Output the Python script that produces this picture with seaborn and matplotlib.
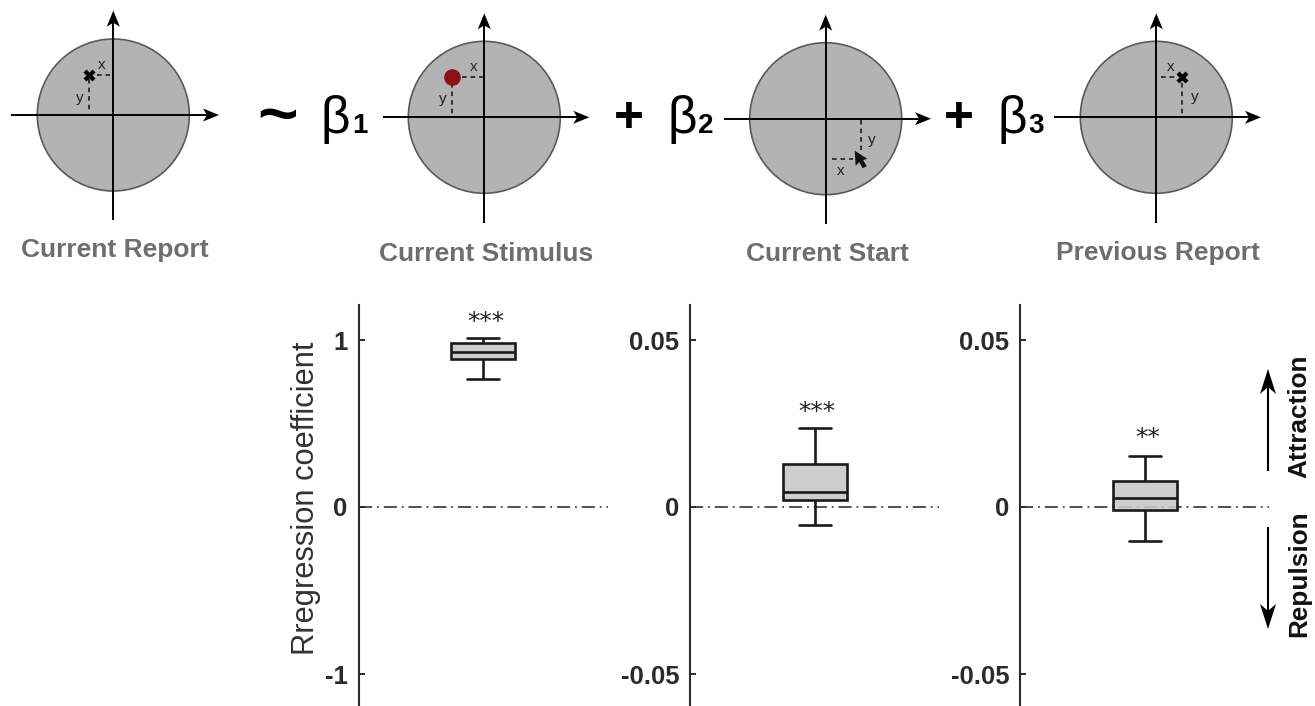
import matplotlib
matplotlib.use("Agg")
import matplotlib.pyplot as plt
from matplotlib.patches import Circle, Polygon
import numpy as np
import seaborn as sns

# five number summaries: min, q1, median, q3, max
stimulus_box = [0.765, 0.886, 0.926, 0.984, 1.01]
start_box = [-0.0055, 0.0021, 0.0044, 0.0129, 0.0237]
previous_box = [-0.0102, -0.0009, 0.0026, 0.0078, 0.0153]

panel_boxes = [stimulus_box, start_box, previous_box]
panel_ticks = [[-1, 0, 1], [-0.05, 0, 0.05], [-0.05, 0, 0.05]]
panel_ticklabels = [["-1", "0", "1"], ["-0.05", "0", "0.05"], ["-0.05", "0", "0.05"]]
panel_stars = ["***", "***", "**"]
star_heights = [1.11, 0.0285, 0.0208]
panel_scale = [1.0, 0.05, 0.05]

W, H = 1315, 706
DARK = "#1a1a1a"
TICK = "#2b2b2b"

sns.set_theme(style="white")
plt.rcParams["font.family"] = ["Liberation Sans", "DejaVu Sans"]

fig = plt.figure(figsize=(W / 100, H / 100), dpi=100)
fig.patch.set_facecolor("white")

# whole figure axes in pixel units for the schematic part
bg = fig.add_axes([0, 0, 1, 1])
bg.set_xlim(0, W)
bg.set_ylim(H, 0)
bg.axis("off")


def arrow(ax, x0, y0, x1, y1, lw=1.4, head=16, half=6.5, notch=4):
    """Line with a filled swept back head"""
    d = np.array([x1 - x0, y1 - y0], dtype=float)
    d /= np.hypot(*d)
    n = np.array([-d[1], d[0]])
    tip = np.array([x1, y1], dtype=float)
    base = tip - d * head
    mid = tip - d * (head - notch)
    ax.plot([x0, mid[0]], [y0, mid[1]], color="black", lw=lw, solid_capstyle="butt", zorder=3)
    ax.add_patch(Polygon([tip, base + n * half, mid, base - n * half], closed=True,
                         facecolor="black", edgecolor="none", zorder=4))


def dashed(ax, x0, y0, x1, y1):
    ax.plot([x0, x1], [y0, y1], color="#111111", lw=1.1, linestyle=(0, (3, 2.6)), zorder=3)


# centre x, centre y, left end, right end, top end, bottom end
discs = [
    (113.3, 115.0, 11, 219, 10.7, 220),
    (484.3, 117.3, 382.7, 589.3, 13.3, 222.7),
    (825.7, 118.7, 724, 931, 14.7, 224.3),
    (1156.3, 117.3, 1054.3, 1261, 13.3, 222.7),
]
for cx, cy, left, right, top, bottom in discs:
    bg.add_patch(Circle((cx, cy), 76, facecolor="#b3b3b3", edgecolor="#5a5a5a", lw=1.2, zorder=1))
    arrow(bg, left, cy, right, cy)
    arrow(bg, cx, bottom, cx, top)

# guides from the marker to each axis
dashed(bg, 96.7, 74.7, 110, 74.7)
dashed(bg, 89, 79, 89, 110)
dashed(bg, 461.7, 77, 483, 77)
dashed(bg, 451.7, 83, 451.7, 114)
dashed(bg, 831.7, 158.7, 852.7, 158.7)
dashed(bg, 860.7, 120, 860.7, 150)
dashed(bg, 1161, 77, 1178, 77)
dashed(bg, 1182.3, 83, 1182.3, 115.7)

bg.plot([89, 1182.3], [74.7, 77], linestyle="none", marker="X", ms=9, color="black",
        markeredgecolor="none", zorder=5)
bg.plot([451.7], [77], marker="o", ms=12, color="#8a1216", markeredgecolor="none", zorder=5)

# mouse pointer
tip_x, tip_y = 854.7, 150.7
pointer = [(0, 0), (1, 15), (4.5, 11.5), (8, 17.5), (12, 15.5), (8.5, 9.5), (12.5, 8)]
bg.add_patch(Polygon([(tip_x + a, tip_y + b) for a, b in pointer], closed=True,
                     facecolor="#111111", edgecolor="none", zorder=5))

small_labels = [
    ("x", 102, 65), ("y", 80, 97.7),
    ("x", 473.3, 67), ("y", 442.7, 99.3),
    ("x", 841, 170.7), ("y", 872, 140),
    ("x", 1170.3, 67.3), ("y", 1195, 97),
]
for s, x, y in small_labels:
    bg.text(x, y, s, fontsize=11, color="#222222", ha="center", va="center", zorder=6)

captions = [
    ("Current Report", 115, 250),
    ("Current Stimulus", 485.7, 253.7),
    ("Current Start", 827.7, 254.3),
    ("Previous Report", 1158, 253),
]
for s, x, y in captions:
    bg.text(x, y, s, fontsize=19, fontweight="bold", color="#6e6e6e", ha="center", va="center")

# the equation
bg.text(277.7, 118, "~", fontsize=50, fontweight="bold", color="black", ha="center", va="center")
for s, x, y in [("+", 629, 118.5), ("+", 959, 118.5)]:
    bg.text(x, y, s, fontsize=37, fontweight="bold", color="black", ha="center", va="center")
for x in [335, 682, 1012]:
    bg.text(x, 119, "β", fontsize=37, color="black", ha="center", va="center")
for s, x in [("1", 359.5), ("2", 705.5), ("3", 1036)]:
    bg.text(x, 126, s, fontsize=20, fontweight="bold", color="black", ha="center", va="center")

# boxplot panels
spine_x = [358.5, 690.3, 1020.3]
panel_w = 249
panel_top = 305
zero_y = 507
unit_px = 167

for i in range(3):
    ax = fig.add_axes([spine_x[i] / W, 0, panel_w / W, (H - panel_top) / H])
    ax.patch.set_alpha(0)
    ax.axhline(0, color="#222222", lw=1.1, linestyle=(0, (8.6, 3.2, 1.2, 3.2)), zorder=0.5)
    sns.boxplot(y=panel_boxes[i], ax=ax, width=0.257, whis=(0, 100), color="#c8c8c8",
                saturation=1, linecolor=DARK, linewidth=1.9)
    ax.patches[0].set_facecolor((0.784, 0.784, 0.784, 0.88))

    s = panel_scale[i]
    ax.set_xlim(-0.5, 0.5)
    ax.set_ylim((zero_y - H) / unit_px * s, (zero_y - panel_top) / unit_px * s)
    ax.set_xticks([])
    ax.set_xlabel("")
    ax.set_ylabel("")
    ax.set_yticks(panel_ticks[i])
    ax.set_yticklabels(panel_ticklabels[i], fontsize=18.5, fontweight="bold", color=TICK)
    ax.tick_params(axis="y", direction="in", length=4.5, width=1.4, color=TICK, left=True, pad=8)
    sns.despine(ax=ax, bottom=True)
    ax.spines["left"].set_color(TICK)
    ax.spines["left"].set_linewidth(1.5)

    ax.text(0.01, star_heights[i], panel_stars[i], fontsize=18, color="#222222",
            family="DejaVu Sans", ha="center", va="center")

    if i == 0:
        ax.set_ylabel("Rregression coefficient", fontsize=22.2, color="#333333")
        ax.yaxis.set_label_coords((321 - spine_x[0]) / panel_w, 0.518)

# direction arrows on the right
arrow(bg, 1268, 471, 1268, 369, lw=1.5, head=25, half=8, notch=7)
arrow(bg, 1268, 527, 1268, 629, lw=1.5, head=25, half=8, notch=7)
bg.text(1299.5, 416, "Attraction", rotation=90, fontsize=18.8, fontweight="bold",
        color="#111111", ha="center", va="center")
bg.text(1299.5, 574, "Repulsion", rotation=90, fontsize=18.8, fontweight="bold",
        color="#111111", ha="center", va="center")

fig.savefig("out.png", dpi=100)
